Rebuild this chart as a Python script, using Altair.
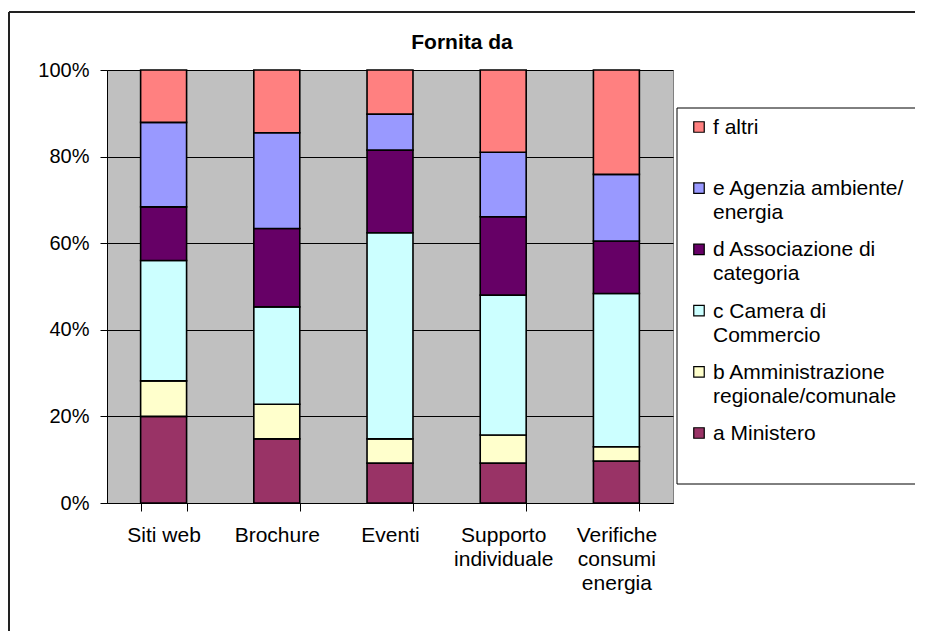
import altair as alt
import pandas as pd

categories = ["Siti web", "Brochure", "Eventi", "Supporto\nindividuale", "Verifiche\nconsumi\nenergia"]
series_keys = ["a", "b", "c", "d", "e", "f"]
series_labels = [
    "a Ministero",
    "b Amministrazione\nregionale/comunale",
    "c Camera di\nCommercio",
    "d Associazione di\ncategoria",
    "e Agenzia ambiente/\nenergia",
    "f altri",
]
series_colors = ["#993366", "#FFFFCC", "#CCFFFF", "#660066", "#9999FF", "#FF8080"]
chart_title = "Fornita da"

# percentage shares per category, in series order a..f
val_a = [20.0, 14.8, 9.2, 9.2, 9.7]
val_b = [8.2, 8.0, 5.6, 6.5, 3.3]
val_c = [27.8, 22.5, 47.6, 32.3, 35.4]
val_d = [12.4, 18.1, 19.1, 18.1, 12.1]
val_e = [19.5, 22.1, 8.3, 14.9, 15.4]
val_f = [12.1, 14.5, 10.2, 19.0, 24.1]
values = [val_a, val_b, val_c, val_d, val_e, val_f]

rows = []
for si, key in enumerate(series_keys):
    for ci, cat in enumerate(categories):
        rows.append({"cat": cat, "serie": key, "ord": si, "v": values[si][ci]})
df = pd.DataFrame(rows)

leg_df = pd.DataFrame({
    "serie": series_keys[::-1],
    "label": series_labels[::-1],
    "row": list(range(len(series_keys))),
})

FONT = "Liberation Sans"
color_scale = alt.Scale(domain=series_keys, range=series_colors)


def one():
    return alt.Data(values=[{}])


# outer chart frame (top and left edges; the rest lies beyond the window)
frame_top = alt.Chart(one()).mark_rule(color="#222222", strokeWidth=2).encode(
    x=alt.value(-98), x2=alt.value(808), y=alt.value(-58)
)
frame_left = alt.Chart(one()).mark_rule(color="#222222", strokeWidth=2).encode(
    x=alt.value(-98), y=alt.value(-58), y2=alt.value(561)
)

# legend box (right edge lies beyond the window)
legend_bg = alt.Chart(one()).mark_rect(fill="white").encode(
    x=alt.value(570), x2=alt.value(808), y=alt.value(38), y2=alt.value(414)
)
lb_top = alt.Chart(one()).mark_rule(color="black", strokeWidth=1).encode(
    x=alt.value(570), x2=alt.value(808), y=alt.value(38)
)
lb_bot = alt.Chart(one()).mark_rule(color="black", strokeWidth=1).encode(
    x=alt.value(570), x2=alt.value(808), y=alt.value(414)
)
lb_left = alt.Chart(one()).mark_rule(color="black", strokeWidth=1).encode(
    x=alt.value(570), y=alt.value(38), y2=alt.value(414)
)

title_tx = alt.Chart(alt.Data(values=[{"t": chart_title}])).mark_text(
    fontSize=21, fontWeight="bold", font=FONT, color="black", align="center", baseline="middle"
).encode(x=alt.value(355), y=alt.value(-27), text="t:N")

bars = alt.Chart(df).mark_bar(stroke="black", strokeWidth=1.6).encode(
    x=alt.X(
        "cat:N",
        sort=categories,
        title=None,
        scale=alt.Scale(paddingInner=0.594, paddingOuter=0.297),
        axis=alt.Axis(
            labelAngle=0,
            tickBand="extent",
            labelExpr="split(datum.label, '\\n')",
            labelLineHeight=24,
            labelFontSize=21,
            labelFont=FONT,
            labelColor="black",
            labelPadding=13,
            tickSize=8,
            tickColor="black",
            domainColor="black",
            labelBaseline="top",
        ),
    ),
    y=alt.Y(
        "v:Q",
        stack="normalize",
        title=None,
        scale=alt.Scale(domain=[0, 1]),
        axis=alt.Axis(
            values=[0, 0.2, 0.4, 0.6, 0.8, 1.0],
            format=".0%",
            labelFontSize=20,
            labelFont=FONT,
            labelColor="black",
            labelPadding=11,
            tickSize=7,
            tickColor="black",
            domainColor="black",
            grid=True,
            gridColor="black",
            gridWidth=1,
        ),
    ),
    color=alt.Color("serie:N", scale=color_scale, legend=None),
    order=alt.Order("ord:Q"),
)

leg_y = alt.Y("row:O", axis=None, scale=alt.Scale(type="point", range=[57, 363], padding=0))

leg_sq = alt.Chart(leg_df).mark_square(size=110, opacity=1, stroke="black", strokeWidth=1.2).encode(
    x=alt.value(592),
    y=leg_y,
    color=alt.Color("serie:N", scale=color_scale, legend=None),
)

leg_tx = alt.Chart(leg_df).mark_text(
    align="left", baseline="alphabetic", dy=7, lineBreak="\n", lineHeight=24,
    fontSize=21, font=FONT, color="black",
).encode(
    x=alt.value(606),
    y=leg_y,
    text="label:N",
)

chart = alt.layer(
    frame_top, frame_left, legend_bg, lb_top, lb_bot, lb_left, title_tx, bars, leg_sq, leg_tx
).resolve_scale(
    y="independent"
).properties(
    width=566,
    height=433,
    padding={"left": 0, "top": 3, "right": 0, "bottom": 0},
    background="white",
).configure_view(
    fill="#C0C0C0", stroke="#808080", strokeWidth=1
)

chart.save("out.html", embed_options={"renderer": "svg", "actions": False})
